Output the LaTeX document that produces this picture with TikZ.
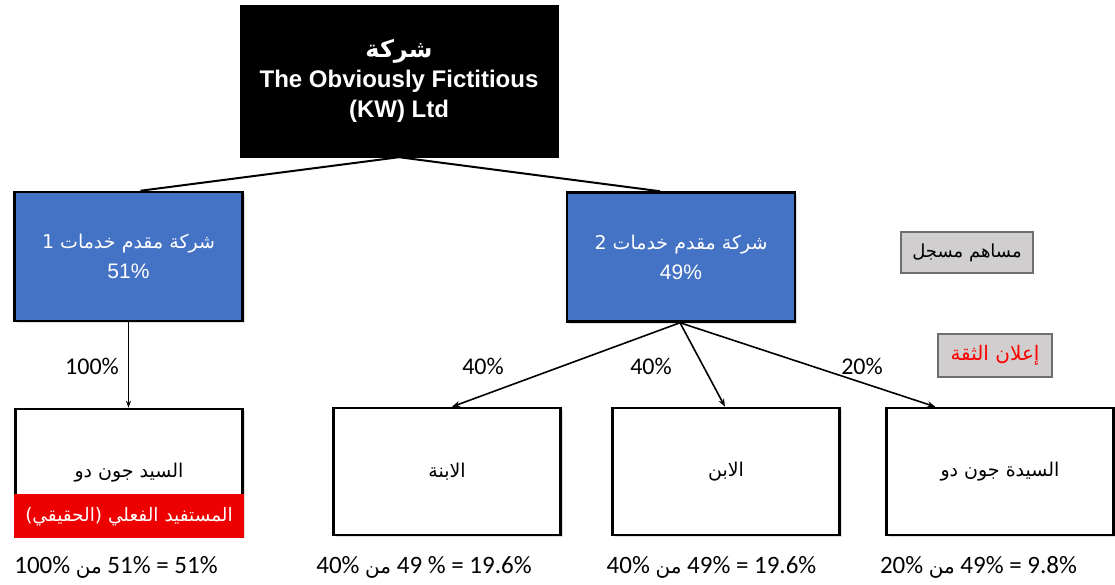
\documentclass[tikz,border=0pt]{standalone}
\usepackage{fontspec}
\setmainfont{Liberation Sans}
\newfontfamily\arabicfont[Script=Arabic]{DejaVu Sans}
\newfontfamily\calfont{Carlito}
\TeXXeTstate=1
\usetikzlibrary{calc,arrows.meta,shadows}
\definecolor{spblue}{RGB}{68,114,196}
\definecolor{keygray}{RGB}{208,206,206}
\definecolor{keyedge}{RGB}{110,110,110}
\definecolor{bandred}{RGB}{238,0,0}
\tikzset{
  topbox/.style={draw=black, fill=black, text=white, minimum width=318pt, minimum height=152pt,
    inner sep=0pt, align=center, font=\bfseries\fontsize{24}{30}\selectfont},
  spbox/.style={draw=black, line width=2.5pt, fill=spblue, text=white, minimum width=228pt,
    minimum height=129pt, inner sep=0pt, align=center, font=\fontsize{21}{30}\selectfont,
    drop shadow={opacity=0.25, shadow xshift=2pt, shadow yshift=-2pt}},
  ownerbox/.style={draw=black, line width=2.5pt, fill=white, minimum width=227pt,
    minimum height=127pt, inner sep=0pt, font=\arabicfont\fontsize{19}{22}\selectfont,
    drop shadow={opacity=0.25, shadow xshift=2pt, shadow yshift=-2pt}},
  band/.style={fill=bandred, text=white, minimum width=230pt, minimum height=44pt, inner sep=0pt,
    font=\arabicfont\fontsize{18.5}{22}\selectfont},
  keybox/.style={draw=keyedge, line width=1.2pt, fill=keygray, inner sep=0pt,
    font=\arabicfont\fontsize{18}{21}\selectfont},
  pct/.style={font=\calfont\fontsize{24}{28}\selectfont, inner sep=0pt},
  sumtext/.style={font=\calfont\fontsize{25}{28}\selectfont, inner sep=0pt},
  link/.style={line width=2pt},
  arrowlink/.style={line width=1.6pt, -{Stealth[length=8pt,width=6pt]}},
  thinarrow/.style={line width=1pt, -{Stealth[length=7pt,width=5pt]}}
}
\newcommand{\ar}[1]{{\arabicfont\beginR #1\endR}}
\newcommand{\arsp}[1]{{\arabicfont\fontsize{19}{30}\selectfont\beginR #1\endR}}
\newcommand{\arsmall}[1]{{\arabicfont\fontsize{20}{24}\selectfont\beginR #1\endR}}
\begin{document}
\begin{tikzpicture}[x=1pt, y=-1pt]
\useasboundingbox[fill=white] (0,0) rectangle (1115,585);

% parent company
\node[topbox] (top) at (399,81) {\ar{شركة}\\The Obviously Fictitious\\(KW) Ltd};

% service providers
\node[spbox] (sp1) at (128.5,256.5) {\arsp{شركة مقدم خدمات 1}\\51\%};
\node[spbox] (sp2) at (681,257) {\arsp{شركة مقدم خدمات 2}\\49\%};

% legend
\node[keybox, minimum width=132pt, minimum height=41pt] (reg) at (967,252.5) {\ar{مساهم مسجل}};
\node[keybox, minimum width=114pt, minimum height=43pt, text=red,
      font=\arabicfont\fontsize{20}{22}\selectfont] (trust) at (995,355.5) {\ar{إعلان الثقة}};

% owners
\node[ownerbox] (b1) at (129,472.5) {\ar{السيد جون دو}};
\node[band, anchor=south] (ben) at ($(b1.south)+(0,1.25)$) {\ar{المستفيد الفعلي (الحقيقي)}};
\node[ownerbox] (b2) at (447,471.5) {\ar{الابنة}};
\node[ownerbox] (b3) at (726,471.5) {\ar{الابن}};
\node[ownerbox] (b4) at (1000,471.5) {\ar{السيدة جون دو}};

% ownership lines
\draw[link] (top.south) -- ($(sp1.north)+(12,0)$);
\draw[link] (top.south) -- ($(sp2.north)+(-21,0)$);
\draw[thinarrow] (sp1.south) -- (sp1.south |- b1.north);
\draw[arrowlink] ($(sp2.south)+(-1,0)$) -- ($(b2.north)+(5,0)$);
\draw[arrowlink] ($(sp2.south)+(-1,0)$) -- ($(b3.north)+(-1,0)$);
\draw[arrowlink] ($(sp2.south)+(-1,0)$) -- ($(b4.north west)+(50,0)$);

% percentages on the links
\node[pct] (p1) at (92,366) {100\%};
\node[pct] (p2) at (483,366) {40\%};
\node[pct] (p3) at (651,366) {40\%};
\node[pct] (p4) at (862,366) {20\%};

% effective holdings
\node[sumtext] (s1) at (116,567) {100\%~\arsmall{من}~51\%~=~51\%};
\node[sumtext] (s2) at (424,567) {40\%~\arsmall{من}~49~\%~=~19.6\%};
\node[sumtext] (s3) at (711.5,567) {40\%~\arsmall{من}~49\%~=~19.6\%};
\node[sumtext] (s4) at (978.5,567) {20\%~\arsmall{من}~49\%~=~9.8\%};
\end{tikzpicture}
\end{document}
